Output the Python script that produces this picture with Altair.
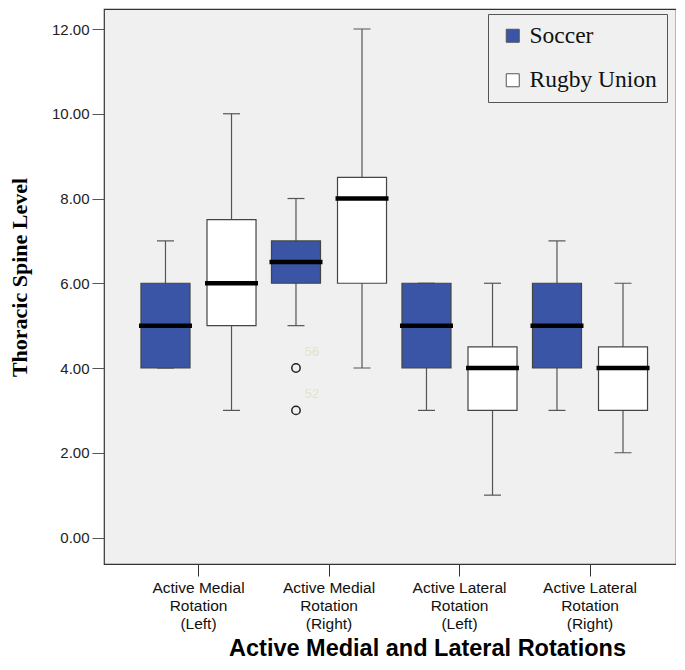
import altair as alt
import pandas as pd

# ---- data ----
cat_lines = [
    ["Active Medial", "Rotation", "(Left)"],
    ["Active Medial", "Rotation", "(Right)"],
    ["Active Lateral", "Rotation", "(Left)"],
    ["Active Lateral", "Rotation", "(Right)"],
]
categories = ["\n".join(l) for l in cat_lines]
groups = ["Soccer", "Rugby Union"]
group_colors = ["#3a54a6", "#ffffff"]

soccer_lo = [4, 5, 3, 3]
soccer_q1 = [4, 6, 4, 4]
soccer_med = [5, 6.5, 5, 5]
soccer_q3 = [6, 7, 6, 6]
soccer_hi = [7, 8, 6, 7]

rugby_lo = [3, 4, 1, 2]
rugby_q1 = [5, 6, 3, 3]
rugby_med = [6, 8, 4, 4]
rugby_q3 = [7.5, 8.5, 4.5, 4.5]
rugby_hi = [10, 12, 6, 6]

outlier_cat = [1, 1]
outlier_group = ["Soccer", "Soccer"]
outlier_val = [4, 3]
outlier_id = ["56", "52"]

y_ticks = [0, 2, 4, 6, 8, 10, 12]

# ---- tables ----
rows = []
for g, lo, q1, md, q3, hi in [
    ("Soccer", soccer_lo, soccer_q1, soccer_med, soccer_q3, soccer_hi),
    ("Rugby Union", rugby_lo, rugby_q1, rugby_med, rugby_q3, rugby_hi),
]:
    for i, c in enumerate(categories):
        rows.append(dict(cat=c, group=g, lo=lo[i], q1=q1[i], med=md[i], q3=q3[i], hi=hi[i]))
df = pd.DataFrame(rows)

out_df = pd.DataFrame(dict(
    cat=[categories[i] for i in outlier_cat],
    group=outlier_group,
    val=outlier_val,
    label=outlier_id,
))

Y_DOMAIN = [-0.625, 12.472]

x_enc = alt.X(
    "cat:N",
    sort=categories,
    scale=alt.Scale(range=[29.25, 551.25], paddingInner=0, paddingOuter=0),
    axis=alt.Axis(
        title="Active Medial and Lateral Rotations",
        labelExpr="split(datum.label, '\\n')",
        labelAngle=0,
        labelFont="Liberation Sans",
        labelFontSize=15.5,
        labelLineHeight=18,
        labelColor="#111",
        labelPadding=4,
        domain=False,
        ticks=True,
        tickSize=12,
        tickColor="#333",
        tickWidth=1,
        titleFont="Liberation Sans",
        titleFontSize=23.5,
        titleFontWeight="bold",
        titleColor="#000",
        titleX=323,
        titleY=91,
        titleAlign="center",
        titleBaseline="alphabetic",
    ),
)
xoff = alt.XOffset(
    "group:N",
    sort=groups,
    scale=alt.Scale(paddingInner=0.2576, paddingOuter=0.117),
)

base = alt.Chart(df)

whisker = base.mark_rule(color="#555", strokeWidth=1.2, opacity=1).encode(
    x=x_enc,
    xOffset=xoff,
    y=alt.Y(
        "lo:Q",
        scale=alt.Scale(domain=Y_DOMAIN, nice=False, zero=False),
        axis=alt.Axis(
            values=y_ticks,
            format=".2f",
            title="Thoracic Spine Level",
            grid=False,
            domain=False,
            tickSize=12,
            tickColor="#555",
            labelFont="Liberation Sans",
            labelFontSize=15,
            labelColor="#222",
            labelPadding=3,
            titleFont="Liberation Serif",
            titleFontSize=22,
            titleFontWeight="bold",
            titleColor="#000",
            titleX=-85,
            titleY=268,
            titleAngle=270,
            titleAlign="center",
            titleBaseline="middle",
        ),
    ),
    y2="hi:Q",
)

cap_lo = base.mark_tick(color="#555", size=17, thickness=1.2, opacity=1).encode(
    x=alt.X("cat:N", sort=categories), xOffset=xoff, y="lo:Q"
)
cap_hi = base.mark_tick(color="#555", size=17, thickness=1.2, opacity=1).encode(
    x=alt.X("cat:N", sort=categories), xOffset=xoff, y="hi:Q"
)

box = base.mark_bar(stroke="#444", strokeWidth=1.2, opacity=1).encode(
    x=alt.X("cat:N", sort=categories),
    xOffset=xoff,
    y="q1:Q",
    y2="q3:Q",
    fill=alt.Fill(
        "group:N",
        sort=groups,
        scale=alt.Scale(domain=groups, range=group_colors),
        legend=alt.Legend(
            title=None,
            orient="none",
            legendX=384,
            legendY=5,
            fillColor="#f0f0f0",
            strokeColor="#555",
            padding=10,
            symbolType="square",
            symbolSize=169,
            symbolStrokeColor="#555",
            symbolStrokeWidth=1,
            symbolOffset=3,
            labelFont="Liberation Serif",
            labelFontSize=23.5,
            labelColor="#111",
            labelOffset=5,
            rowPadding=19.5,
            labelLimit=300,
        ),
    ),
)

median = base.mark_tick(color="#000", size=53, thickness=4.5, opacity=1).encode(
    x=alt.X("cat:N", sort=categories), xOffset=xoff, y="med:Q"
)

outl = alt.Chart(out_df).mark_point(
    shape="circle", filled=False, stroke="#222", strokeWidth=1.5, size=70, opacity=1
).encode(x=alt.X("cat:N", sort=categories), xOffset=xoff, y="val:Q")

outl_text = alt.Chart(out_df).mark_text(
    dx=16, dy=-16, color="#e6e3c6", font="Liberation Sans", fontSize=13
).encode(x=alt.X("cat:N", sort=categories), xOffset=xoff, y="val:Q", text="label:N")

chart = (
    alt.layer(whisker, cap_lo, cap_hi, box, median, outl, outl_text)
    .properties(
        width=572,
        height=555,
        padding={"left": 96, "top": 1, "right": 0, "bottom": 97},
        autosize=alt.AutoSizeParams(type="none"),
        background="#ffffff",
    )
    .configure_view(fill="#f0f0f0", stroke="#333", strokeWidth=1.2)
)

chart.save("out.html", embed_options={"renderer": "svg", "actions": False})
